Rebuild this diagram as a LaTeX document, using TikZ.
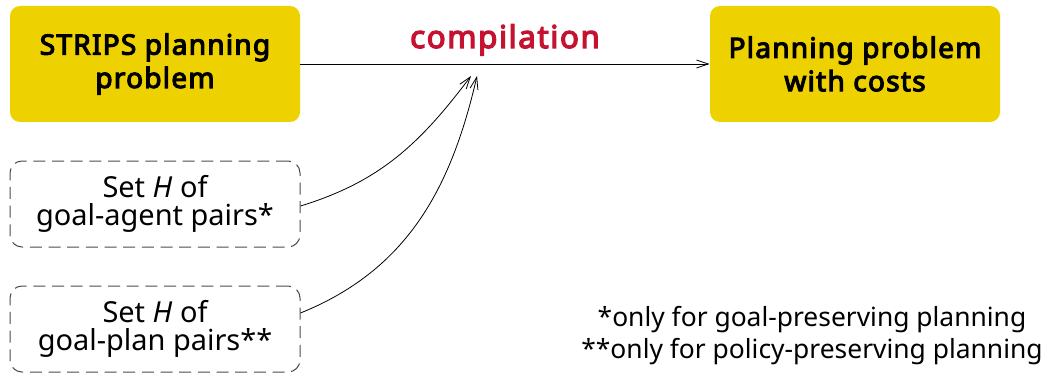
\documentclass[tikz,border=0pt]{standalone}
\usepackage{fontspec}
\setmainfont{Noto Sans}
\newfontfamily\nsbold{Noto Sans}[FakeBold=4,LetterSpace=4.5]
\newfontfamily\nsboldc{Noto Sans}[FakeBold=4,LetterSpace=5]
\usetikzlibrary{arrows.meta}
\definecolor{boxyellow}{RGB}{238,209,0}
\definecolor{compred}{RGB}{196,18,48}
\definecolor{dashgray}{RGB}{75,75,75}
\tikzset{
  solidbox/.style={fill=boxyellow, rounded corners=7.5pt, minimum width=217.5pt, minimum height=87pt,
    align=center, font=\fontsize{21}{25}\nsbold, inner sep=0pt},
  dashbox/.style={draw=dashgray, line width=0.75pt, dash pattern=on 9pt off 5pt, rounded corners=9pt,
    minimum width=217.5pt, minimum height=64.5pt, align=center, font=\fontsize{21.7}{21.5}\selectfont, inner sep=0pt},
  conn/.style={line width=0.6pt, -{Straight Barb[length=9pt,width=6pt]}},
  note/.style={align=center, font=\fontsize{19.8}{23.5}\selectfont}
}
\begin{document}
\begin{tikzpicture}[x=0.75pt,y=0.75pt]
\useasboundingbox (0,0) rectangle (1046,372);
\node[solidbox] (strips) at (155,308) {STRIPS planning\\problem};
\node[solidbox] (costs) at (855,308) {Planning problem\\with costs};
\node[dashbox] (agent) at (155,168) {Set \textit{H} of\\goal-agent pairs*};
\node[dashbox] (plan) at (155,43) {Set \textit{H} of\\goal-plan pairs**};
\node[font=\fontsize{23.5}{24}\nsboldc, text=compred, anchor=base, inner sep=0pt] (comp) at (505,324) {compilation};
\node[note] (notes) at (812,36.5) {*only for goal-preserving planning\\**only for policy-preserving planning};
\coordinate (e1) at (471,296);
\coordinate (e2) at (477,296);
\draw[conn] (strips.east) -- (costs.west);
\draw[conn] ([yshift=-1.5pt]agent.east) to[out=17,in=233] (e1);
\draw[conn] ([yshift=12pt]plan.east) to[out=22,in=257] (e2);
\end{tikzpicture}
\end{document}
